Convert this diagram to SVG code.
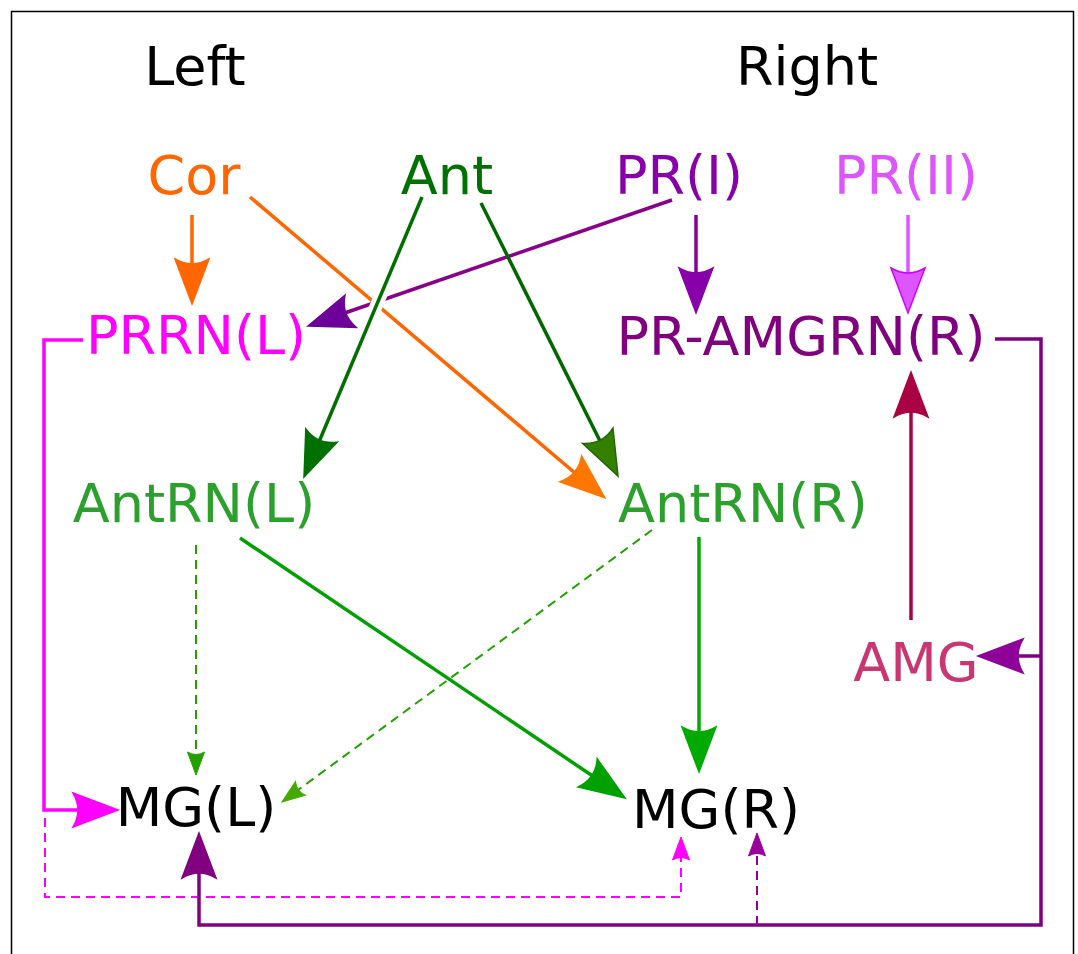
<svg xmlns="http://www.w3.org/2000/svg" xmlns:xlink="http://www.w3.org/1999/xlink" width="1078" height="954" viewBox="0 0 1078 954">
<style>
text{font-family:"DejaVu Sans","Liberation Sans",sans-serif;font-size:54px;text-anchor:middle}
.ln{fill:none;stroke-width:3.5}
.dash{fill:none;stroke-width:2;stroke-dasharray:9,6}
</style>
<defs>
<path id="ah" d="M0,0 L-45,-17 Q-35,0 -45,17 Z" stroke-width="1.5" stroke-linejoin="miter"/>
<path id="as" d="M0,0 L-23,-8.5 Q-18,0 -23,8.5 Z" stroke-width="1"/>
</defs>
<rect x="11.5" y="11.5" width="1062" height="960" fill="#fff" stroke="#000" stroke-width="1.5"/>
<g id="title-left"><text x="195" y="85">Left</text></g>
<g id="title-right"><text x="807" y="85">Right</text></g>
<g id="connectors">
<path class="ln" stroke="#ff6600" d="M192,215 V275"/>
<use href="#ah" transform="translate(192,304) rotate(90)" fill="#ff6600" stroke="#ff6600"/>
<path class="ln" stroke="#ff6600" d="M250,197 L582,479"/>
<use href="#ah" transform="translate(605,498) rotate(40.3)" fill="#ff7700" stroke="#ff7700"/>
<path class="ln" stroke="#880088" d="M672,200 L336,316"/>
<use href="#ah" transform="translate(308,326) rotate(160.9)" fill="#6c0099" stroke="#6c0099"/>
<path d="M422,197 L316,449" fill="none" stroke="#fff" stroke-width="13"/>
<path class="ln" stroke="#006f00" d="M422,197 L316,449"/>
<use href="#ah" transform="translate(304,477) rotate(112.9)" fill="#007000" stroke="#007000"/>
<path class="ln" stroke="#006600" d="M481,203 L604,449"/>
<use href="#ah" transform="translate(618,476) rotate(63.3)" fill="#338000" stroke="#226600"/>
<path class="ln" stroke="#880099" d="M696,215 V285"/>
<use href="#ah" transform="translate(696,313) rotate(90)" fill="#8800aa" stroke="#8800aa"/>
<path class="ln" stroke="#dd55ff" stroke-width="2.5" d="M908,215 V285"/>
<use href="#ah" transform="translate(908,313) rotate(90)" fill="#dd55ff" stroke="#cc00ff"/>
<path class="ln" stroke="#ff00ff" d="M83,340 H44 V810 H85"/>
<use href="#ah" transform="translate(118,810) rotate(0)" fill="#ff00ff" stroke="#ff00ff"/>
<path class="dash" stroke="#ff00ff" d="M45,818 V897 H681 V850"/>
<use href="#as" transform="translate(681,837) rotate(-90)" fill="#ff00ff" stroke="#ff00ff"/>
<path class="dash" stroke="#22a000" d="M196,545 V760"/>
<use href="#as" transform="translate(196,775) rotate(90)" fill="#22a000" stroke="#22a000"/>
<path class="dash" stroke="#22a000" d="M652,530 L294,793"/>
<use href="#as" transform="translate(282,802) rotate(143.7)" fill="#44aa00" stroke="#44aa00"/>
<path class="ln" stroke="#00a000" stroke-width="4" d="M240,538 L600,781"/>
<use href="#ah" transform="translate(625,798) rotate(34)" fill="#00a000" stroke="#00a000"/>
<path class="ln" stroke="#00aa00" d="M699,537 V742"/>
<use href="#ah" transform="translate(699,772) rotate(90)" fill="#00aa00" stroke="#00aa00"/>
<path class="ln" stroke="#aa0044" d="M911,620 V400"/>
<use href="#ah" transform="translate(911,372) rotate(-90)" fill="#aa0044" stroke="#aa0044"/>
<path class="ln" stroke="#800080" stroke-width="4" d="M995,339 H1041 V925 H199 V860"/>
<path class="ln" stroke="#800080" d="M1041,656 H1008"/>
<use href="#ah" transform="translate(978,656) rotate(180)" fill="#8f0099" stroke="#8f0099"/>
<use href="#ah" transform="translate(199,833) rotate(-90)" fill="#800080" stroke="#800080"/>
<path class="dash" stroke="#990099" stroke-width="2.5" d="M757,925 V845"/>
<use href="#as" transform="translate(757,833) rotate(-90)" fill="#990099" stroke="#990099"/>
</g>
<g id="Cor"><text x="194" y="194" fill="#ff6600">Cor</text></g>
<g id="Ant"><text x="447" y="194" fill="#007000">Ant</text></g>
<g id="PR_I"><text x="679" y="194" fill="#8800aa">PR(I)</text></g>
<g id="PR_II"><text x="906" y="194" fill="#dd55ff">PR(II)</text></g>
<g id="PRRN_L"><text x="196" y="354" fill="#ff00ff">PRRN(L)</text></g>
<g id="PR-AMGRN_R"><text x="801" y="355" fill="#800080">PR-AMGRN(R)</text></g>
<g id="AntRN_L"><text x="194" y="522" fill="#2ca02c">AntRN(L)</text></g>
<g id="AntRN_R"><text x="743" y="522" fill="#2ca02c">AntRN(R)</text></g>
<g id="AMG"><text x="916" y="681" fill="#c83771">AMG</text></g>
<g id="MG_L"><text x="196" y="826" fill="#000">MG(L)</text></g>
<g id="MG_R"><text x="716" y="828" fill="#000">MG(R)</text></g>
</svg>
